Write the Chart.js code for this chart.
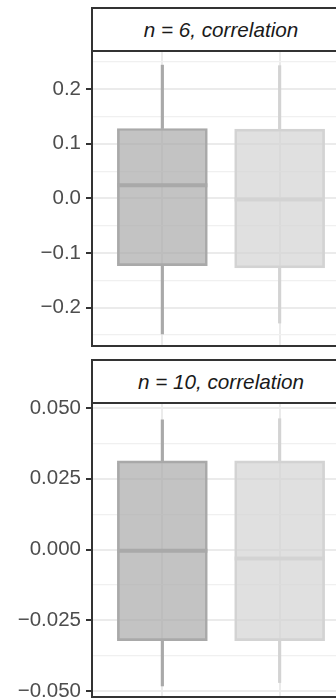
<!DOCTYPE html>
<html>
<head>
<meta charset="utf-8">
<script src="https://cdn.jsdelivr.net/npm/chart.js@4.4.0/dist/chart.umd.min.js"></script>
<style>
  body { margin: 0; width: 336px; height: 700px; overflow: hidden; background: #fff; position: relative; font-family: 'Liberation Sans', Arial, sans-serif; }
  .panel { position: absolute; left: 0; width: 360px; height: 360px; }
  .strip { position: absolute; left: 91px; width: 270px; height: 41px; border: 2px solid #333; background: #fff; }
  .strip span { position: absolute; left: 0; top: 0; width: 256px; text-align: center; font-style: italic; font-size: 20.7px; line-height: 41px; color: #1a1a1a; }
</style>
</head>
<body>
<div class="panel" style="top:0px"><canvas id="chart1"></canvas></div>
<div class="panel" style="top:352px"><canvas id="chart2"></canvas></div>
<div class="strip" style="top:7px"><span>n = 6, correlation</span></div>
<div class="strip" style="top:359px"><span>n = 10, correlation</span></div>
<script>
// x positions of the two boxes
const groups = [1, 2];
const lineColors = ['#a9a9a9', '#d3d3d3'];
const fillColors = ['rgba(169,169,169,0.7)', 'rgba(211,211,211,0.7)'];

// panel 1: n = 6
const p1Min = [-0.248, -0.228];
const p1Q1 = [-0.123, -0.127];
const p1Median = [0.024, -0.002];
const p1Q3 = [0.128, 0.127];
const p1Max = [0.244, 0.243];
const p1Ticks = [-0.2, -0.1, 0, 0.1, 0.2];
const p1TickLabels = ['\u22120.2', '\u22120.1', '0.0', '0.1', '0.2'];
const p1Minor = [-0.25, -0.15, -0.05, 0.05, 0.15, 0.25];

// panel 2: n = 10
const p2Min = [-0.0482, -0.047];
const p2Q1 = [-0.0322, -0.0322];
const p2Median = [-0.0004, -0.0032];
const p2Q3 = [0.0313, 0.0313];
const p2Max = [0.0458, 0.0462];
const p2Ticks = [-0.05, -0.025, 0, 0.025, 0.05];
const p2TickLabels = ['\u22120.050', '\u22120.025', '0.000', '0.025', '0.050'];
const p2Minor = [-0.0375, -0.0125, 0.0125, 0.0375];

Chart.defaults.font.family = "'Liberation Sans', Arial, sans-serif";

function isMajor(v, majors) {
    return majors.some(m => Math.abs(m - v) < 1e-9);
}

function makePanel(id, mins, q1s, meds, q3s, maxs, majors, labels, minors, yMin, yMax, padTop, padBottom) {
    const ctx = document.getElementById(id).getContext('2d');
    return new Chart(ctx, {
        type: 'bar',
        data: {
            datasets: [
                {
                    // upper whiskers
                    data: groups.map((g, i) => ({ x: g, y: [q3s[i], maxs[i]] })),
                    backgroundColor: lineColors,
                    borderWidth: 0,
                    barThickness: 2.5,
                    grouped: false,
                    order: 3
                },
                {
                    // lower whiskers
                    data: groups.map((g, i) => ({ x: g, y: [mins[i], q1s[i]] })),
                    backgroundColor: lineColors,
                    borderWidth: 0,
                    barThickness: 2.5,
                    grouped: false,
                    order: 3
                },
                {
                    // boxes
                    data: groups.map((g, i) => ({ x: g, y: [q1s[i], q3s[i]] })),
                    backgroundColor: fillColors,
                    borderColor: lineColors,
                    borderWidth: 2,
                    borderSkipped: false,
                    barThickness: 90,
                    grouped: false,
                    order: 2
                },
                {
                    // medians
                    type: 'line',
                    data: groups.map((g, i) => ({ x: g, y: meds[i] })),
                    showLine: false,
                    pointStyle: 'line',
                    pointRadius: 45,
                    pointHoverRadius: 45,
                    pointBorderWidth: 4,
                    pointBorderColor: lineColors,
                    order: 1
                }
            ]
        },
        options: {
            responsive: true,
            maintainAspectRatio: false,
            devicePixelRatio: 1,
            animation: false,
            events: [],
            layout: { autoPadding: false, padding: { top: padTop, bottom: padBottom, left: 0, right: 10 } },
            plugins: { legend: { display: false }, tooltip: { enabled: false } },
            scales: {
                x: {
                    type: 'linear',
                    min: 0.4,
                    max: 2.6,
                    offset: false,
                    afterBuildTicks: scale => { scale.ticks = groups.map(v => ({ value: v })); },
                    ticks: { display: false },
                    grid: { offset: false, color: '#ebebeb', lineWidth: 2, drawTicks: false },
                    border: { display: true, color: '#333', width: 2 }
                },
                y: {
                    min: yMin,
                    max: yMax,
                    afterBuildTicks: scale => {
                        scale.ticks = majors.concat(minors).sort((a, b) => a - b).map(v => ({ value: v }));
                    },
                    afterFit: scale => {
                        scale.width = 92;
                        // labels may overflow the panel, padding comes from layout
                        scale.paddingTop = 0;
                        scale.paddingBottom = 0;
                    },
                    ticks: {
                        autoSkip: false,
                        padding: 5,
                        color: '#4d4d4d',
                        font: { size: 20.5 },
                        callback: v => {
                            const k = majors.findIndex(m => Math.abs(m - v) < 1e-9);
                            return k >= 0 ? labels[k] : '';
                        }
                    },
                    grid: {
                        color: c => isMajor(c.tick.value, majors) ? '#ebebeb' : '#f0f0f0',
                        lineWidth: c => isMajor(c.tick.value, majors) ? 2 : 1.2,
                        tickColor: c => isMajor(c.tick.value, majors) ? '#333' : 'rgba(0,0,0,0)',
                        tickLength: 6,
                        tickWidth: 2
                    },
                    border: { display: true, color: '#333', width: 2 }
                }
            }
        }
    });
}

makePanel('chart1', p1Min, p1Q1, p1Median, p1Q3, p1Max, p1Ticks, p1TickLabels, p1Minor, -0.27, 0.268, 52, 14);
makePanel('chart2', p2Min, p2Q1, p2Median, p2Q3, p2Max, p2Ticks, p2TickLabels, p2Minor, -0.0521, 0.0514, 52, 15);
</script>
</body>
</html>
